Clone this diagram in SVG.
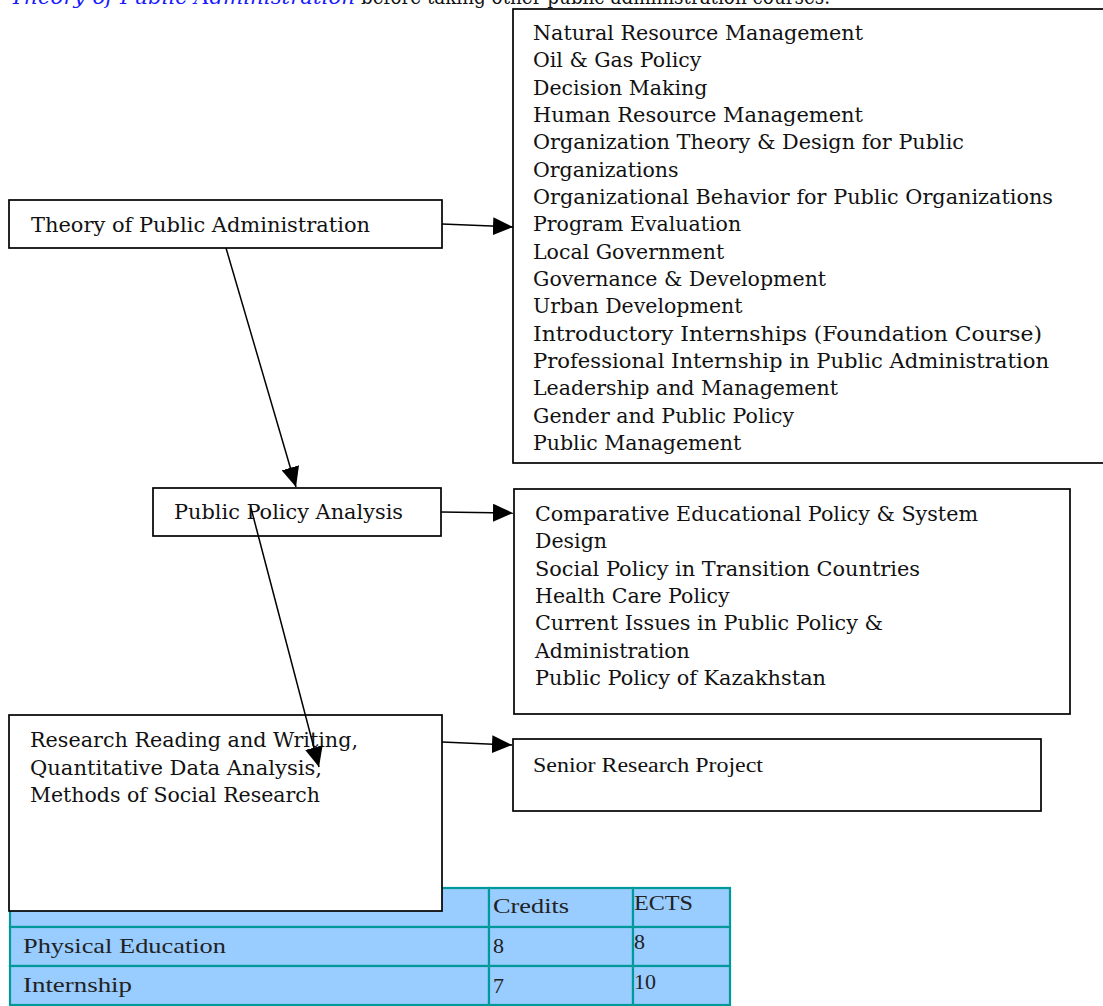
<svg xmlns="http://www.w3.org/2000/svg" width="1103" height="1006" viewBox="0 0 1103 1006">
<style>
.box{fill:#fff;stroke:#000;stroke-width:1.7}
.geo{font-family:"DejaVu Serif",serif;font-size:20px;fill:#111}
.list{font-family:"DejaVu Serif",serif;font-size:20.5px;fill:#111}
.tnr{font-family:"Liberation Serif",serif;font-size:20px;fill:#111}
.tbl{font-family:"Liberation Serif",serif;font-size:22px;fill:#222}
.cell{fill:#99CCFF;stroke:#009999;stroke-width:2.2}
.conn{stroke:#000;stroke-width:1.5;fill:none;marker-end:url(#ah)}
</style>
<defs>
<marker id="ah" markerUnits="userSpaceOnUse" markerWidth="20" markerHeight="18" refX="20" refY="9" orient="auto">
<path d="M0,0 L20,9 L0,18 z" fill="#000"/>
</marker>
</defs>
<rect width="1103" height="1006" fill="#fff"/>
<g id="header">
<text x="10" y="3.5" font-family="DejaVu Serif, serif" font-size="20" font-style="italic" fill="#1a1aff" textLength="345" lengthAdjust="spacingAndGlyphs">Theory of Public Administration</text>
<text x="361" y="3.5" class="geo" textLength="469" lengthAdjust="spacingAndGlyphs">before taking other public administration courses.</text>
</g>
<g id="table">
<rect class="cell" x="10" y="888" width="479" height="39"/>
<rect class="cell" x="489" y="888" width="144" height="39"/>
<rect class="cell" x="633" y="888" width="97" height="39"/>
<rect class="cell" x="10" y="927" width="479" height="39"/>
<rect class="cell" x="489" y="927" width="144" height="39"/>
<rect class="cell" x="633" y="927" width="97" height="39"/>
<rect class="cell" x="10" y="966" width="479" height="39"/>
<rect class="cell" x="489" y="966" width="144" height="39"/>
<rect class="cell" x="633" y="966" width="97" height="39"/>
<text class="tbl" x="493" y="913" textLength="76" lengthAdjust="spacingAndGlyphs">Credits</text>
<text class="tbl" x="634" y="910" textLength="59" lengthAdjust="spacingAndGlyphs">ECTS</text>
<text class="tbl" x="23" y="953" textLength="203" lengthAdjust="spacingAndGlyphs">Physical Education</text>
<text class="tbl" x="493" y="953">8</text>
<text class="tbl" x="634" y="949">8</text>
<text class="tbl" x="23" y="992" textLength="109" lengthAdjust="spacingAndGlyphs">Internship</text>
<text class="tbl" x="493" y="993">7</text>
<text class="tbl" x="634" y="989">10</text>
</g>
<g id="electives">
<rect class="box" x="513" y="9" width="620" height="454"/>
<text class="list">
<tspan x="533" y="40" textLength="330" lengthAdjust="spacingAndGlyphs">Natural Resource Management</tspan>
<tspan x="533" y="67.3">Oil &amp; Gas Policy</tspan>
<tspan x="533" y="94.6">Decision Making</tspan>
<tspan x="533" y="122" textLength="330" lengthAdjust="spacingAndGlyphs">Human Resource Management</tspan>
<tspan x="533" y="149.3" textLength="431" lengthAdjust="spacingAndGlyphs">Organization Theory &amp; Design for Public</tspan>
<tspan x="533" y="176.6">Organizations</tspan>
<tspan x="533" y="204" textLength="520" lengthAdjust="spacingAndGlyphs">Organizational Behavior for Public Organizations</tspan>
<tspan x="533" y="231.3">Program Evaluation</tspan>
<tspan x="533" y="258.6">Local Government</tspan>
<tspan x="533" y="286">Governance &amp; Development</tspan>
<tspan x="533" y="313.3">Urban Development</tspan>
<tspan x="533" y="340.6" textLength="509" lengthAdjust="spacingAndGlyphs">Introductory Internships (Foundation Course)</tspan>
<tspan x="533" y="368" textLength="516" lengthAdjust="spacingAndGlyphs">Professional Internship in Public Administration</tspan>
<tspan x="533" y="395.3">Leadership and Management</tspan>
<tspan x="533" y="422.6">Gender and Public Policy</tspan>
<tspan x="533" y="450">Public Management</tspan>
</text>
</g>
<g id="theory">
<rect class="box" x="9" y="200" width="433" height="48"/>
<text class="geo" x="31" y="232" textLength="339" lengthAdjust="spacingAndGlyphs">Theory of Public Administration</text>
</g>
<g id="policy">
<rect class="box" x="153" y="488" width="288" height="48"/>
<text class="geo" x="174" y="519" textLength="229" lengthAdjust="spacingAndGlyphs">Public Policy Analysis</text>
</g>
<g id="policy-electives">
<rect class="box" x="514" y="489" width="556" height="225"/>
<text class="list">
<tspan x="535" y="521" textLength="443" lengthAdjust="spacingAndGlyphs">Comparative Educational Policy &amp; System</tspan>
<tspan x="535" y="548.3">Design</tspan>
<tspan x="535" y="575.6" textLength="385" lengthAdjust="spacingAndGlyphs">Social Policy in Transition Countries</tspan>
<tspan x="535" y="603">Health Care Policy</tspan>
<tspan x="535" y="630.3" textLength="348" lengthAdjust="spacingAndGlyphs">Current Issues in Public Policy &amp;</tspan>
<tspan x="535" y="657.6">Administration</tspan>
<tspan x="535" y="685" textLength="291" lengthAdjust="spacingAndGlyphs">Public Policy of Kazakhstan</tspan>
</text>
</g>
<g id="research">
<rect class="box" x="9" y="715" width="433" height="196"/>
<text class="geo">
<tspan x="30" y="747" textLength="328" lengthAdjust="spacingAndGlyphs">Research Reading and Writing,</tspan>
<tspan x="30" y="774.5" textLength="292" lengthAdjust="spacingAndGlyphs">Quantitative Data Analysis,</tspan>
<tspan x="30" y="802" textLength="290" lengthAdjust="spacingAndGlyphs">Methods of Social Research</tspan>
</text>
</g>
<g id="senior">
<rect class="box" x="513" y="739" width="528" height="72"/>
<text class="tnr" x="533" y="772" textLength="230" lengthAdjust="spacingAndGlyphs">Senior Research Project</text>
</g>
<g id="connectors">
<line class="conn" x1="442" y1="224" x2="513" y2="227"/>
<line class="conn" x1="226" y1="248" x2="296" y2="487"/>
<line class="conn" x1="441" y1="512" x2="513" y2="513"/>
<line class="conn" x1="251" y1="508" x2="319" y2="767"/>
<line class="conn" x1="442" y1="742" x2="512" y2="745"/>
</g>
</svg>
